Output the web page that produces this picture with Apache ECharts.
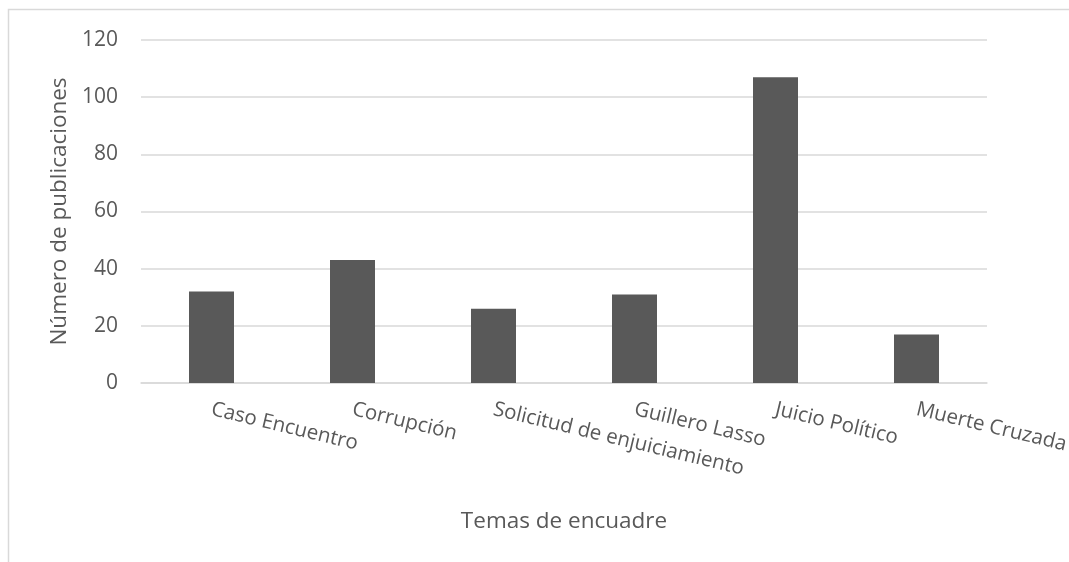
<!DOCTYPE html>
<html><head><meta charset="utf-8">
<script src="https://cdn.jsdelivr.net/npm/echarts@6/dist/echarts.min.js"></script>
<style>html,body{margin:0;padding:0;background:#fff}#c{width:1069px;height:562px}</style>
</head><body><div id="c"></div>
<script>
const categories = ["Caso Encuentro","Corrupción","Solicitud de enjuiciamiento","Guillero Lasso","Juicio Político","Muerte Cruzada"];
const values = [32, 43, 26, 31, 107, 17];
const yTicks = {min:0, max:120, interval:20};
const FONT = "Open Sans";
const chart = echarts.init(document.getElementById('c'), null, {renderer:'canvas'});
chart.setOption({
  animation:false,
  backgroundColor:'#fff',
  graphic:[{type:'rect', shape:{x:8.5,y:9.5,width:1200,height:700}, style:{fill:null, stroke:'#d9d9d9', lineWidth:1.5}, silent:true}],
  grid:{left:141, right:82, top:40, bottom:179, containLabel:false, outerBoundsMode:'none'},
  xAxis:{type:'category', data:categories,
    name:'Temas de encuadre', nameLocation:'middle', nameGap:127,
    nameTextStyle:{fontFamily:FONT, fontSize:22.5, color:'#595959'},
    axisLine:{lineStyle:{color:'#d9d9d9', width:1.5}}, axisTick:{show:false},
    axisLabel:{interval:0, rotate:-13.5, margin:26, fontFamily:FONT, fontSize:20.5, color:'#595959'}},
  yAxis:{type:'value', min:yTicks.min, max:yTicks.max, interval:yTicks.interval,
    name:'Número de publicaciones', nameLocation:'middle', nameGap:68,
    nameTextStyle:{fontFamily:FONT, fontSize:22.5, color:'#595959'},
    axisLine:{show:false}, axisTick:{show:false},
    splitLine:{lineStyle:{color:'#d9d9d9', width:1.5}},
    axisLabel:{margin:23, fontFamily:FONT, fontSize:21, color:'#595959'}},
  series:[{type:'bar', data:values, barWidth:45, itemStyle:{color:'#595959'}}]
});
</script></body></html>
